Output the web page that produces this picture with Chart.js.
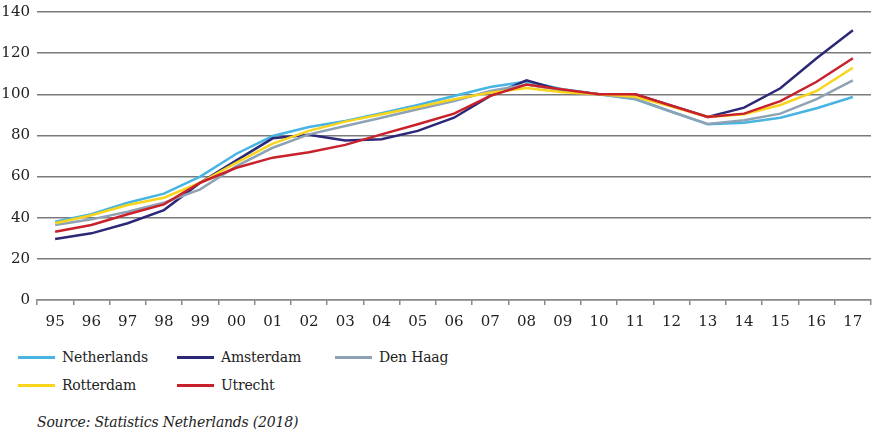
<!DOCTYPE html>
<html>
<head>
<meta charset="utf-8">
<script src="https://cdn.jsdelivr.net/npm/chart.js@4"></script>
<style>
  body { margin: 0; background: #fff; font-family: "DejaVu Serif", serif; color: #222; }
  #wrap { position: absolute; left: 0; top: -4px; width: 872px; height: 345px; }
  #legend { position: absolute; left: 18px; top: 346px; width: 520px; display: grid;
            grid-template-columns: 159px 158px 180px; row-gap: 6px; font-size: 14px; letter-spacing: -0.2px; }
  .item { display: flex; align-items: center; height: 22px; }
  .swatch { width: 37px; height: 3px; margin-right: 7px; }
  #source { position: absolute; left: 37px; top: 414px; font-size: 14px; font-style: italic; letter-spacing: -0.2px; }
</style>
</head>
<body>
<div id="wrap"><canvas id="chart"></canvas></div>
<div id="legend"></div>
<div id="source">Source: Statistics Netherlands (2018)</div>
<script>
// years 1995 - 2017
const years = ["95","96","97","98","99","00","01","02","03","04","05","06","07","08","09","10","11","12","13","14","15","16","17"];

const netherlands = [38.1, 41.7, 47.3, 51.7, 60, 71.1, 79.7, 84.1, 87, 90.8, 94.8, 99.2, 103.5, 106.2, 102.5, 100, 97.6, 91.5, 85.4, 86.2, 88.6, 93.2, 98.7];
const amsterdam   = [29.7, 32.4, 37.3, 43.7, 57, 67.9, 78.6, 80.3, 77.5, 78.1, 82.2, 88.6, 99.2, 106.8, 101.8, 100, 100, 94.5, 89, 93.5, 102.9, 117.5, 131.1];
const denHaag     = [36.5, 39.2, 42.9, 47.3, 53.8, 65.1, 74, 80.5, 84.6, 88.6, 92.7, 96.7, 101.6, 104.8, 101.8, 100, 97.8, 91.5, 85.6, 87.4, 90.6, 97.6, 106.8];
const rotterdam   = [37.3, 41.2, 46.2, 49.7, 57, 66.8, 76, 82.2, 86.7, 90.3, 93.8, 97.6, 100.8, 103, 101, 100, 98.8, 94, 89, 90.3, 94.8, 101.6, 112.9];
const utrecht     = [33.2, 36.5, 41.7, 46.5, 57, 64.3, 69.2, 71.8, 75.4, 80.5, 85.4, 90.6, 99.2, 104.7, 102.3, 100, 100, 94.4, 89, 90.6, 96.7, 106.1, 117.5];

const seriesNames = ["Netherlands", "Amsterdam", "Den Haag", "Rotterdam", "Utrecht"];
const seriesColors = ["#48b4e2", "#2c2878", "#8ea2b6", "#f8d51a", "#c9212b"];
const seriesData = [netherlands, amsterdam, denHaag, rotterdam, utrecht];
const drawOrder = [5, 4, 3, 2, 1];

const serif = { family: "'DejaVu Serif', serif", size: 15 };

const chart = new Chart(document.getElementById("chart"), {
    type: "line",
    data: {
        labels: years,
        datasets: seriesNames.map((name, i) => ({
            label: name,
            data: seriesData[i],
            borderColor: seriesColors[i],
            borderWidth: 2.5,
            pointRadius: 0,
            tension: 0,
            order: drawOrder[i]
        }))
    },
    options: {
        responsive: true,
        maintainAspectRatio: false,
        animation: false,
        layout: { padding: { top: 5, right: 1, left: 0, bottom: 0 } },
        plugins: { legend: { display: false }, tooltip: { enabled: false } },
        scales: {
            x: {
                offset: true,
                grid: { offset: true, drawOnChartArea: false, color: "#8a8a8a", tickLength: 5, lineWidth: 1.5 },
                border: { color: "#8a8a8a", width: 1.5 },
                ticks: { color: "#222", font: serif, padding: 8, maxRotation: 0, autoSkip: false },
                afterFit: axis => { axis.height = 41; }
            },
            y: {
                min: 0,
                max: 140,
                ticks: { stepSize: 20, color: "#222", font: serif, padding: 7 },
                grid: { color: "#7a7a7a", lineWidth: 1.5, drawTicks: false },
                border: { display: false },
                afterFit: axis => { axis.width = 37; }
            }
        }
    }
});

// legend
const legend = document.getElementById("legend");
legend.innerHTML = seriesNames.map((name, i) =>
    `<div class="item"><span class="swatch" style="background:${seriesColors[i]}"></span>${name}</div>`
).join("");
</script>
</body>
</html>
